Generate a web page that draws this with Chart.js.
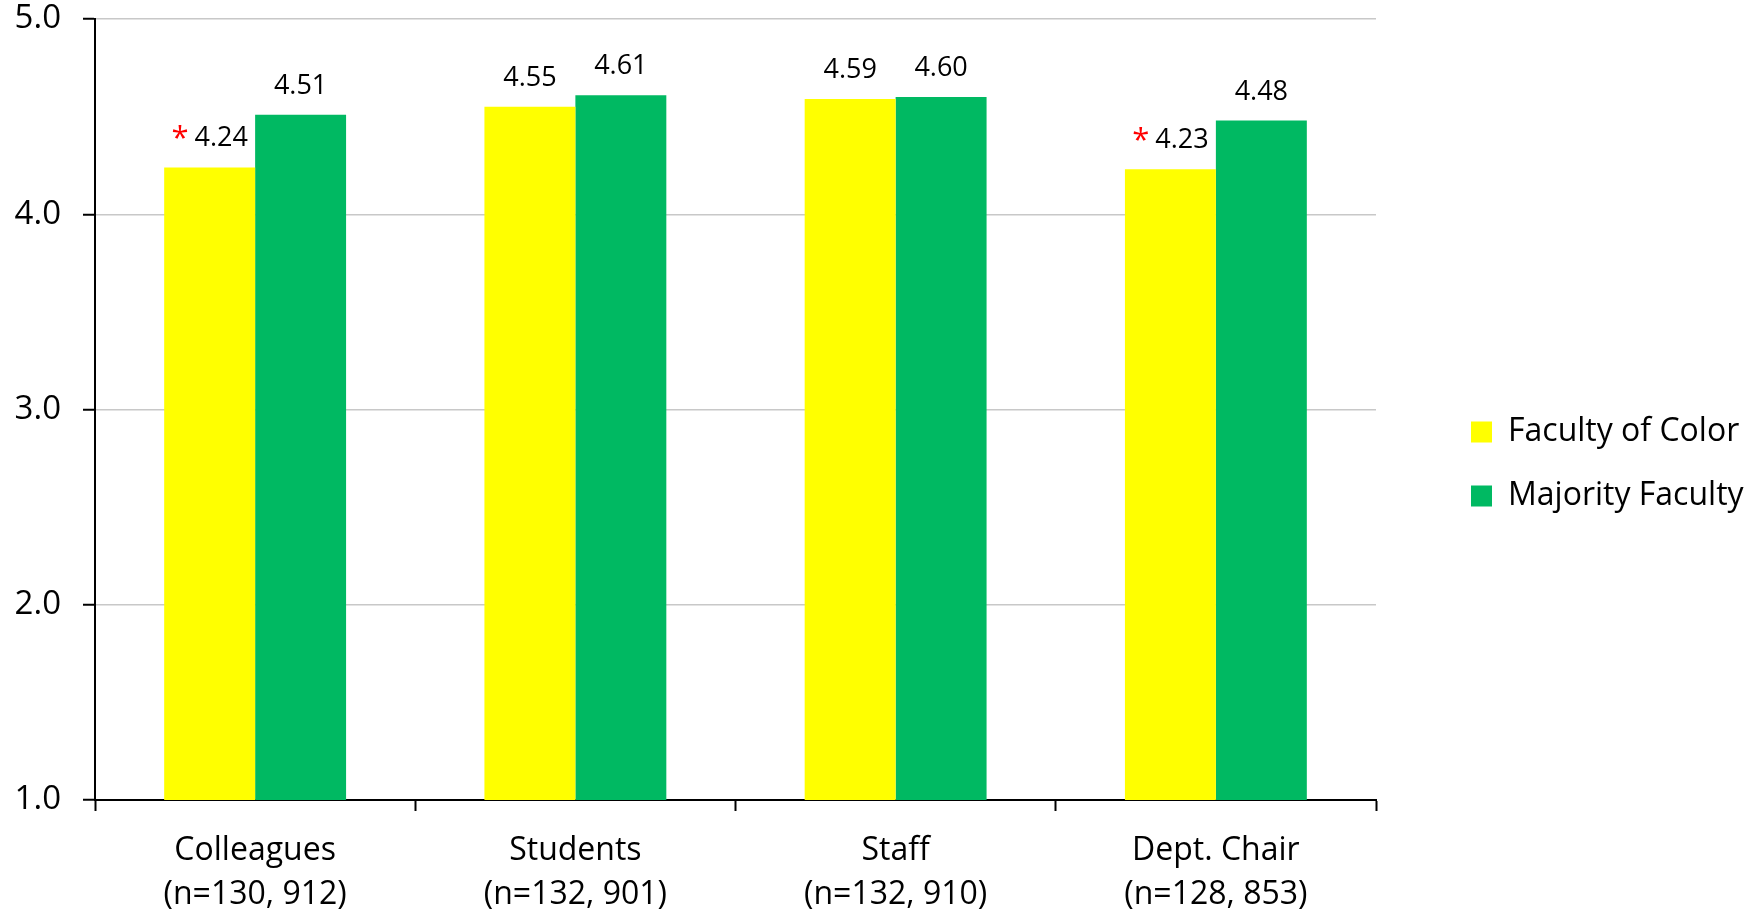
<!DOCTYPE html>
<html>
<head>
<meta charset="utf-8">
<script src="https://cdn.jsdelivr.net/npm/chart.js@4.4.1/dist/chart.umd.min.js"></script>
<style>
  html, body { margin: 0; padding: 0; background: #fff; }
  #wrap { width: 1760px; height: 909px; }
</style>
</head>
<body>
<div id="wrap"><canvas id="myChart" width="1760" height="909"></canvas></div>
<script>
const categories = [
    ['Colleagues', '(n=130, 912)'],
    ['Students', '(n=132, 901)'],
    ['Staff', '(n=132, 910)'],
    ['Dept. Chair', '(n=128, 853)']
];
const seriesNames = ['Faculty of Color', 'Majority Faculty'];
const colorValues = [4.24, 4.55, 4.59, 4.23];
const majorityValues = [4.51, 4.61, 4.60, 4.48];
// categories where the difference was significant (marked with a red star)
const significant = [true, false, false, true];
const yTicks = [1, 2, 3, 4, 5];

const FONT = '"Open Sans", "Noto Sans", sans-serif';

// value labels above each bar, with a red asterisk where flagged
const valueLabels = {
    id: 'valueLabels',
    afterDatasetsDraw(chart) {
        const ctx = chart.ctx;
        ctx.save();
        ctx.textBaseline = 'alphabetic';
        ctx.textAlign = 'left';
        chart.data.datasets.forEach((ds, di) => {
            const meta = chart.getDatasetMeta(di);
            meta.data.forEach((bar, i) => {
                const txt = ds.data[i].toFixed(2);
                const y = bar.y - 21;
                ctx.font = '27px ' + FONT;
                const tw = ctx.measureText(txt).width;
                if (di === 0 && significant[i]) {
                    ctx.font = '31px ' + FONT;
                    const sw = ctx.measureText('*').width;
                    const gap = 6;
                    const x0 = bar.x - (sw + gap + tw) / 2;
                    ctx.fillStyle = '#ff0000';
                    ctx.fillText('*', x0, y + 2);
                    ctx.font = '27px ' + FONT;
                    ctx.fillStyle = '#000';
                    ctx.fillText(txt, x0 + sw + gap, y);
                } else {
                    ctx.fillStyle = '#000';
                    ctx.fillText(txt, bar.x - tw / 2, y);
                }
            });
        });
        ctx.restore();
    }
};

// park the legend to the right of the plot
const legendPlace = {
    id: 'legendPlace',
    afterLayout(chart) {
        const lg = chart.legend;
        const w = lg.width, h = lg.height;
        lg.left = 1439;
        lg.right = lg.left + w;
        lg.top = 384;
        lg.bottom = lg.top + h;
    }
};

new Chart(document.getElementById('myChart'), {
    type: 'bar',
    data: {
        labels: categories,
        datasets: [{
            label: seriesNames[0],
            data: colorValues,
            backgroundColor: '#ffff00',
            borderWidth: 0
        }, {
            label: seriesNames[1],
            data: majorityValues,
            backgroundColor: '#00b962',
            borderWidth: 0
        }]
    },
    options: {
        responsive: false,
        animation: false,
        layout: { padding: { top: 19, right: 384, bottom: 0, left: 0 } },
        datasets: { bar: { categoryPercentage: 0.568, barPercentage: 1 } },
        plugins: {
            legend: {
                position: 'chartArea',
                align: 'start',
                labels: {
                    boxWidth: 21,
                    boxHeight: 21,
                    padding: 32,
                    color: '#000',
                    font: { family: FONT, size: 32 }
                }
            },
            tooltip: { enabled: false }
        },
        scales: {
            x: {
                grid: {
                    offset: true,
                    drawOnChartArea: false,
                    tickLength: 11,
                    tickWidth: 2,
                    tickColor: '#000'
                },
                border: { color: '#000', width: 2 },
                ticks: {
                    color: '#000',
                    padding: 17,
                    maxRotation: 0,
                    font: { family: FONT, size: 32, lineHeight: 1.4 }
                },
                afterFit(scale) { scale.height = 109; }
            },
            y: {
                min: 1,
                max: 5,
                afterBuildTicks(scale) {
                    scale.ticks = yTicks.map(v => ({ value: v }));
                },
                grid: {
                    color: '#c8c8c8',
                    lineWidth: 1.5,
                    tickLength: 12,
                    tickWidth: 2,
                    tickColor: '#000'
                },
                border: { color: '#000', width: 2 },
                ticks: {
                    color: '#000',
                    padding: 22,
                    font: { family: FONT, size: 33 },
                    callback: v => Number(v).toFixed(1)
                },
                afterFit(scale) {
                    scale.width = 95;
                    scale.paddingTop = 0;
                    scale.paddingBottom = 0;
                }
            }
        }
    },
    plugins: [valueLabels, legendPlace]
});
</script>
</body>
</html>
